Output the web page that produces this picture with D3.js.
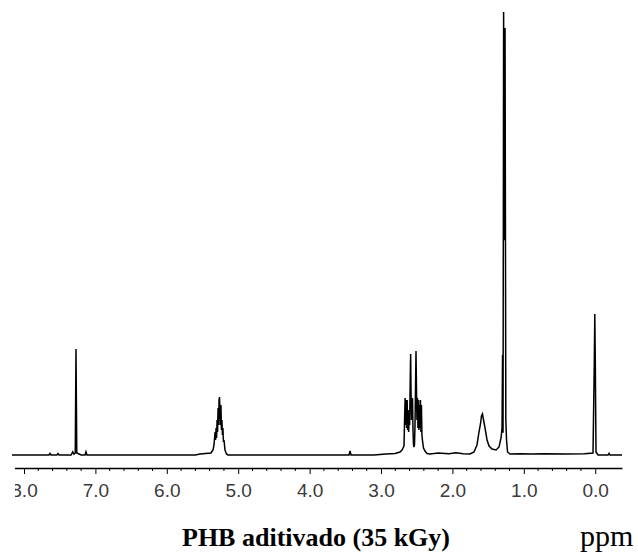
<!DOCTYPE html>
<html>
<head>
<meta charset="utf-8">
<script src="https://cdn.jsdelivr.net/npm/d3@7"></script>
<style>
  html, body { margin: 0; padding: 0; background: #ffffff; }
  svg { display: block; }
</style>
</head>
<body>
<svg id="chart" width="638" height="558"></svg>
<script>
// 1H NMR spectrum of additivated PHB (35 kGy): chemical shift (ppm) vs. relative intensity
const shiftPpm = [
  8.168, 7.700, 7.650, 7.636, 7.622, 7.540, 7.524, 7.510, 7.340, 7.318, 7.300,
  7.282, 7.277, 7.272, 7.266, 7.261, 7.200, 7.145, 7.132, 7.118, 6.500,
  // CH multiplet near 5.25
  5.600, 5.535, 5.381, 5.353, 5.339, 5.331, 5.324, 5.317, 5.310, 5.303,
  5.296, 5.289, 5.282, 5.275, 5.268, 5.262, 5.256, 5.249, 5.242, 5.235,
  5.228, 5.221, 5.214, 5.207, 5.199, 5.185, 5.164, 5.143, 4.500,
  // small signal near 3.43
  3.460, 3.448, 3.434, 3.420, 3.100,
  // CH2 multiplets near 2.6 / 2.5
  2.930, 2.804, 2.734, 2.706, 2.678, 2.670, 2.662, 2.655, 2.648, 2.641,
  2.634, 2.627, 2.620, 2.613, 2.606, 2.599, 2.591, 2.585, 2.580, 2.573,
  2.566, 2.559, 2.552, 2.545, 2.538, 2.531, 2.524, 2.517, 2.510, 2.504,
  2.497, 2.490, 2.483, 2.476, 2.469, 2.462, 2.455, 2.448, 2.441, 2.434,
  2.427, 2.420, 2.405, 2.384, 2.356, 2.314, 2.200, 2.050, 1.950, 1.850,
  // water and CH3 doublet
  1.754, 1.698, 1.656, 1.628, 1.607, 1.593, 1.579, 1.564, 1.543, 1.515,
  1.487, 1.445, 1.389, 1.347, 1.319, 1.305, 1.298, 1.291, 1.283, 1.273,
  1.263, 1.252, 1.242, 1.228, 1.193, 1.050, 0.900, 0.700, 0.400, 0.150,
  // TMS reference
  0.031, 0.013, 0.006, -0.001, -0.011, -0.039, -0.180, -0.193, -0.206, -0.375
];
const intensity = [
  0.00, 0.00, 0.00, 0.35, 0.00, 0.00, 0.35, 0.00, 0.00, 0.70, 0.20,
  0.45, 11.70, 23.90, 11.70, 0.45, 0.00, 0.00, 0.70, 0.00, 0.00,
  0.00, 0.23, 0.45, 1.13, 2.26, 3.84, 5.19, 3.39, 6.09, 3.84,
  7.90, 5.19, 10.61, 6.77, 12.42, 13.09, 10.16, 6.77, 11.29, 5.64,
  7.90, 4.51, 6.09, 2.93, 3.39, 1.13, 0.23, 0.00, 0.00,
  0.00, 0.00, 0.90, 0.00, 0.00,
  0.23, 0.34, 0.68, 1.13, 2.03, 7.90, 12.87, 6.77, 12.42, 6.09,
  12.42, 5.64, 10.16, 5.19, 9.03, 6.77, 16.93, 22.80, 14.67, 7.90,
  12.42, 12.87, 5.64, 2.26, 1.81, 2.26, 6.77, 14.67, 23.48, 15.80,
  7.90, 12.87, 6.09, 12.42, 5.64, 11.29, 6.09, 12.42, 5.19, 11.29,
  4.51, 3.39, 1.58, 0.90, 0.34, 0.23, 0.45, 0.30, 0.50, 0.30,
  0.23, 0.68, 2.26, 5.19, 7.00, 8.80, 9.26, 7.90, 6.09, 3.39,
  2.03, 1.35, 1.13, 1.81, 3.84, 6.09, 22.60, 5.00, 100.00, 48.50,
  96.40, 7.90, 3.39, 0.68, 0.23, 0.30, 0.20, 0.30, 0.20, 0.30,
  0.45, 21.00, 31.83, 21.00, 0.68, 0.00, 0.00, 0.35, 0.00, 0.00
];

// axis tick values
const majorTicks = [8.0, 7.0, 6.0, 5.0, 4.0, 3.0, 2.0, 1.0, 0.0];
const minorTicks = d3.range(41).map(i => +(8.0 - i * 0.2).toFixed(1))
  .filter(v => !majorTicks.includes(v));

const titleText = "PHB aditivado (35 kGy)";
const unitText = "ppm";

const svg = d3.select("#chart");

const x = d3.scaleLinear().domain([8.168, -0.375]).range([12, 622]);
const y = d3.scaleLinear().domain([0, 100]).range([455, 12]);

const points = shiftPpm.map((p, i) => [p, intensity[i]]);

svg.append("path")
  .datum(points)
  .attr("fill", "none")
  .attr("stroke", "#000")
  .attr("stroke-width", 1.5)
  .attr("stroke-linejoin", "miter")
  .attr("d", d3.line().x(d => x(d[0])).y(d => y(d[1])));

// ppm axis below the spectrum; labels are cut at the left edge of the plot
svg.append("clipPath").attr("id", "axisClip")
  .append("rect").attr("x", 15).attr("y", -20).attr("width", 625).attr("height", 70);

const axisG = svg.append("g")
  .attr("transform", "translate(0,468)")
  .attr("clip-path", "url(#axisClip)");

axisG.call(d3.axisBottom(x)
  .tickValues(majorTicks)
  .tickSize(6)
  .tickSizeOuter(0)
  .tickPadding(10)
  .tickFormat(d3.format(".1f")));

axisG.append("g").selectAll("line")
  .data(minorTicks)
  .join("line")
  .attr("x1", d => x(d)).attr("x2", d => x(d))
  .attr("y1", 0).attr("y2", 3)
  .attr("stroke", "#000").attr("stroke-width", 1);

axisG.select(".domain").attr("stroke", "#000").attr("stroke-width", 1.3);
axisG.selectAll(".tick line").attr("stroke", "#000").attr("stroke-width", 1);
axisG.selectAll(".tick text")
  .attr("font-family", "'Liberation Sans', Arial, sans-serif")
  .attr("font-size", 19)
  .attr("fill", "#3a3a3a");

svg.append("text")
  .attr("x", 316).attr("y", 546)
  .attr("text-anchor", "middle")
  .attr("font-family", "'Liberation Serif', 'Times New Roman', serif")
  .attr("font-weight", "bold")
  .attr("font-size", 26)
  .attr("fill", "#000")
  .text(titleText);

svg.append("text")
  .attr("x", 580).attr("y", 546)
  .attr("font-family", "'Liberation Serif', 'Times New Roman', serif")
  .attr("font-size", 30)
  .attr("fill", "#000")
  .text(unitText);
</script>
</body>
</html>
